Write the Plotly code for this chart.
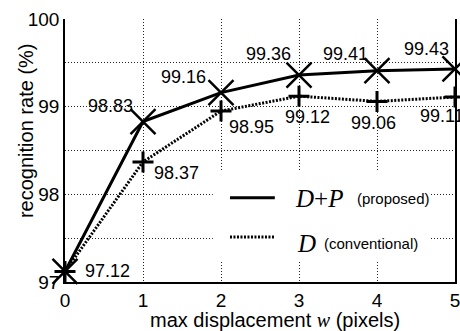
import plotly.graph_objects as go

# ---- data ----
displacement = [0, 1, 2, 3, 4, 5]
rate_dp = [97.12, 98.83, 99.16, 99.36, 99.41, 99.43]   # D+P (proposed)
rate_d = [97.12, 98.37, 98.95, 99.12, 99.06, 99.11]    # D (conventional)
y_ticks = [97, 98, 99, 100]
x_ticks = [0, 1, 2, 3, 4, 5]

FONT = "Liberation Sans, Arial, sans-serif"
SERIF = "Liberation Serif, Times New Roman, serif"
DOT = "2px,1.5px"

fig = go.Figure()

fig.add_trace(go.Scatter(
    x=displacement, y=rate_d, mode="lines+markers", cliponaxis=False,
    line=dict(color="black", width=3, dash=DOT),
    marker=dict(symbol="cross-thin", size=15, line=dict(color="black", width=3)),
    showlegend=False))
fig.add_trace(go.Scatter(
    x=displacement, y=rate_dp, mode="lines+markers", cliponaxis=False,
    line=dict(color="black", width=3),
    marker=dict(symbol="x-thin", size=25, line=dict(color="black", width=2.5)),
    showlegend=False))

# value labels (offsets in pixels)
dp_off = [(18, 0, "left"), (-8, 16, "right"), (-13, 16, "right"),
          (-6, 21, "right"), (-7, 17, "right"), (-4, 20, "right")]
d_off = [None, (9, -11, "left"), (6, -16, "left"), (8, -21, "center"),
         (-4, -22, "center"), (-37, -19, "left")]
for xv, yv, off in zip(displacement, rate_dp, dp_off):
    fig.add_annotation(x=xv, y=yv, text=f"{yv:.2f}", showarrow=False,
                       xshift=off[0], yshift=off[1], xanchor=off[2], yanchor="middle",
                       font=dict(family=FONT, size=18, color="black"))
for xv, yv, off in zip(displacement, rate_d, d_off):
    if off is None:
        continue
    fig.add_annotation(x=xv, y=yv, text=f"{yv:.2f}", showarrow=False,
                       xshift=off[0], yshift=off[1], xanchor=off[2], yanchor="middle",
                       font=dict(family=FONT, size=18, color="black"))

# manual legend
fig.add_shape(type="rect", xref="paper", yref="paper", x0=0.379, x1=0.936, y0=0.076, y1=0.426,
              fillcolor="white", line=dict(width=0), layer="above")
fig.add_shape(type="line", xref="paper", yref="paper", x0=0.423, x1=0.538, y0=0.3205, y1=0.3205,
              line=dict(color="black", width=3), layer="above")
fig.add_shape(type="line", xref="paper", yref="paper", x0=0.423, x1=0.538, y0=0.171, y1=0.171,
              line=dict(color="black", width=3, dash=DOT), layer="above")
fig.add_annotation(xref="paper", yref="paper", x=0.585, y=0.3156, xanchor="left", yanchor="middle",
                   text="<i>D</i>+<i>P</i>", showarrow=False,
                   font=dict(family=SERIF, size=25, color="black"))
fig.add_annotation(xref="paper", yref="paper", x=0.744, y=0.3156, xanchor="left", yanchor="middle",
                   text="(proposed)", showarrow=False,
                   font=dict(family=FONT, size=15, color="black"))
fig.add_annotation(xref="paper", yref="paper", x=0.59, y=0.148, xanchor="left", yanchor="middle",
                   text="<i>D</i>", showarrow=False,
                   font=dict(family=SERIF, size=25, color="black"))
fig.add_annotation(xref="paper", yref="paper", x=0.659, y=0.148, xanchor="left", yanchor="middle",
                   text="(conventional)", showarrow=False,
                   font=dict(family=FONT, size=15, color="black"))

# axis titles
fig.add_annotation(xref="paper", yref="paper", x=0.2128, y=-0.1445, xanchor="left", yanchor="middle",
                   text="max displacement <i><span style='font-family:Liberation Serif'>w</span></i> (pixels)",
                   showarrow=False, font=dict(family=FONT, size=20, color="black"))
fig.add_annotation(xref="paper", yref="paper", x=-0.1, y=0.574, xanchor="center", yanchor="middle",
                   text="recognition rate (%)", textangle=-90,
                   showarrow=False, font=dict(family=FONT, size=20, color="black"))

grid = dict(gridcolor="#222", gridwidth=1, griddash="1px,2px")

fig.update_xaxes(range=[0, 5], tickvals=x_ticks, showline=True, linecolor="black", linewidth=1.5,
                 mirror=False, zeroline=False, ticks="", automargin=False, ticklabeloverflow="allow",
                 tickfont=dict(family=FONT, size=19, color="black"),
                 **grid)
fig.update_yaxes(range=[97, 100], tickvals=y_ticks, showline=True, linecolor="black", linewidth=1.5,
                 mirror=True, zeroline=False, ticks="", automargin=False, ticklabeloverflow="allow",
                 tickfont=dict(family=FONT, size=19, color="black"),
                 minor=dict(dtick=0.5, showgrid=True, gridcolor="#222", gridwidth=1, griddash="1px,2px"),
                 **grid)

fig.update_layout(width=460, height=331, margin=dict(l=65, r=5, t=19, b=49),
                  plot_bgcolor="white", paper_bgcolor="white")

fig.write_html("out.html", config={"displayModeBar": False},
               post_script="document.body.style.margin='0';document.body.style.overflow='hidden';")
